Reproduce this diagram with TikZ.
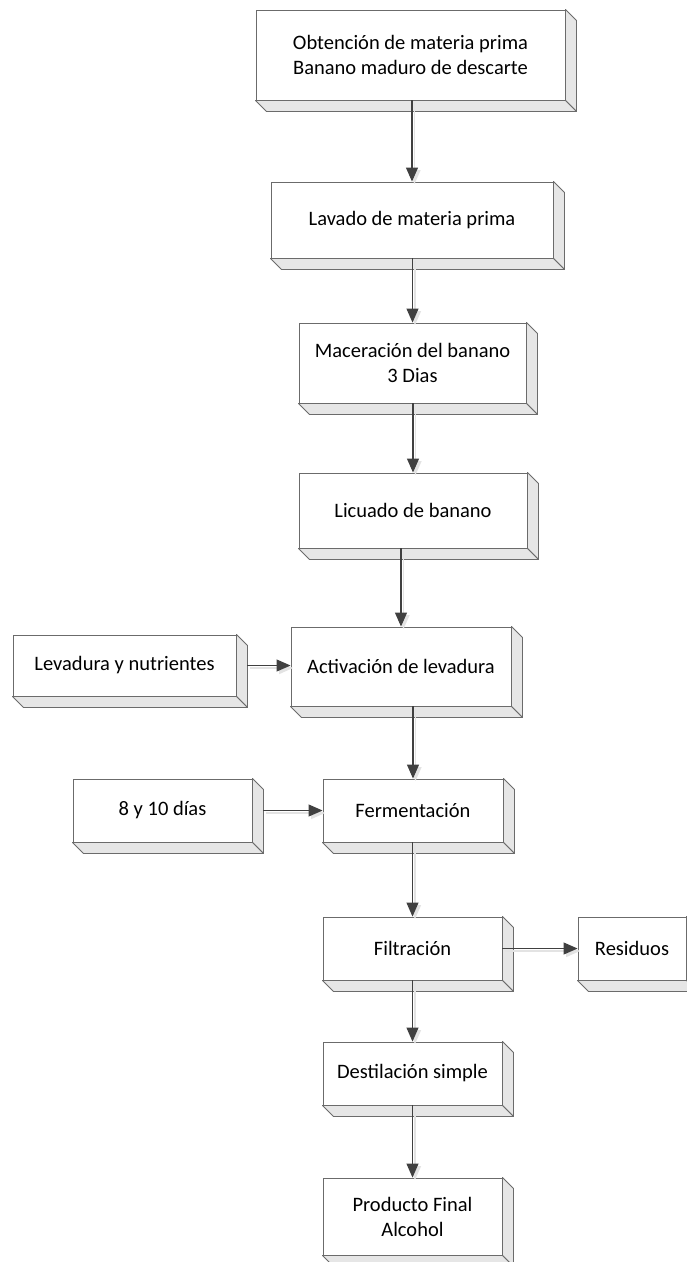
\documentclass[tikz,border=0pt]{standalone}
\usepackage{fontspec}
\setmainfont{Carlito}
\usetikzlibrary{arrows.meta}
\definecolor{boxLine}{HTML}{6B6B6B}
\definecolor{boxSide}{HTML}{E6E6E6}
\definecolor{flowLine}{HTML}{404040}
\definecolor{flowShade}{HTML}{E3E3E3}

\begin{document}
\begin{tikzpicture}[
  x=1pt,y=-1pt,
  proc/.style={draw=boxLine,fill=white,line width=0.9pt,inner sep=0pt,
               align=center,font=\fontsize{20.5}{25}\selectfont},
  side/.style={draw=boxLine,fill=boxSide,line width=0.9pt,line join=round},
  flow/.style={-{Triangle[length=14pt,width=12pt]},draw=flowLine,
               line width=1.1pt,
               preaction={draw=flowShade,line width=1.6pt,
                          transform canvas={shift={(2.5pt,-2.5pt)}}}},
]
  \useasboundingbox (0,0) rectangle (687,1262);

  % main line
  \node[proc,minimum width=309pt,minimum height=90pt] (obt) at (410.5,55)
       {Obtención de materia prima\\Banano maduro de descarte};
  \node[proc,minimum width=282pt,minimum height=76pt] (lav) at (412,220)
       {Lavado de materia prima};
  \node[proc,minimum width=227pt,minimum height=80pt] (mac) at (412.5,363)
       {Maceración del banano\\3 Dias};
  \node[proc,minimum width=228pt,minimum height=75pt] (lic) at (413,510.5)
       {Licuado de banano};
  \node[proc,minimum width=220pt,minimum height=79pt] (act) at (401,666.5)
       {Activación de levadura};
  \node[proc,minimum width=180pt,minimum height=63pt] (fer) at (413,810.5)
       {Fermentación};
  \node[proc,minimum width=179pt,minimum height=63pt] (fil) at (412.5,948.5)
       {Filtración};
  \node[proc,minimum width=179pt,minimum height=63pt] (des) at (412.5,1073.5)
       {Destilación simple};
  \node[proc,minimum width=179pt,minimum height=77pt] (pro) at (412.5,1216.5)
       {Producto Final\\Alcohol};

  % side inputs and outputs
  \node[proc,minimum width=223pt,minimum height=61pt] (lev) at (124.5,665.5)
       {Levadura y nutrientes};
  \node[proc,minimum width=179pt,minimum height=63pt] (dias) at (162.5,810.5)
       {8 y 10 días};
  \node[proc,minimum width=108pt,minimum height=63pt] (res) at (632,948.5)
       {Residuos};

  % 3d depth of the boxes
  \foreach \n in {obt,lav,mac,lic,act,fer,fil,des,pro,lev,dias,res} {
    \path[side] (\n.north east) -- ++(11,11)
      -- ([shift={(11pt,-11pt)}]\n.south east) -- (\n.south east) -- cycle;
    \path[side] (\n.south west) -- ++(11,11)
      -- ([shift={(11pt,-11pt)}]\n.south east) -- (\n.south east) -- cycle;
  }

  % connectors
  \draw[flow] (obt.south -| lav.north) -- (lav.north);
  \draw[flow] (lav.south -| mac.north) -- (mac.north);
  \draw[flow] (mac.south -| lic.north) -- (lic.north);
  \draw[flow] (lic.south -| act.north) -- (act.north);
  \draw[flow] (act.south -| fer.north) -- (fer.north);
  \draw[flow] (fer.south -| fil.north) -- (fil.north);
  \draw[flow] (fil.south -| des.north) -- (des.north);
  \draw[flow] (des.south -| pro.north) -- (pro.north);
  \draw[flow] ([xshift=11pt]lev.east) -- (act.west |- lev.east);
  \draw[flow] ([xshift=11pt]dias.east) -- (fer.west |- dias.east);
  \draw[flow] (fil.east) -- (res.west);
\end{tikzpicture}
\end{document}
